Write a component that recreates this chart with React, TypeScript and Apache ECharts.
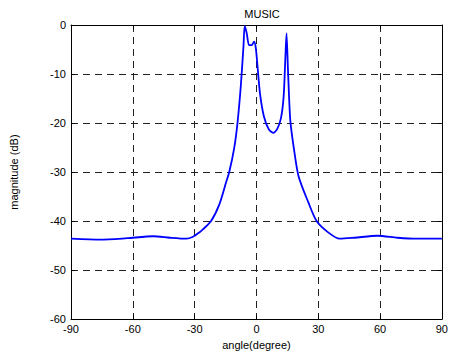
import React, { useEffect, useRef } from "react";
import * as echarts from "echarts";

const angles = [-90, -75.6, -62.8, -50, -42, -34, -30.8, -27.6, -26, -22, -18, -14.8, -13.2, -10.8, -9.2, -7.6, -6.3, -5.7, -4.7, -3.6, -2.3, -1.2, -0.4, 0.4, 1.7, 3.6, 6.0, 8.1, 10.0, 11.9, 13.2, 14.0, 14.6, 15.3, 16.4, 18.0, 20.4, 25.2, 29.2, 34.8, 40.4, 47.6, 58.8, 68.4, 78, 90];
const magnitudes = [-43.6, -43.8, -43.5, -43.1, -43.4, -43.6, -43.2, -42.3, -41.7, -40, -36.6, -32.2, -30, -25.1, -20, -12.5, -4.4, -0.2, -1.7, -4.1, -4.1, -3.4, -4.4, -7.8, -13.9, -18.6, -21.3, -22, -21.3, -19, -14.6, -7.1, -1.7, -9.1, -19.3, -24.7, -30.8, -36.2, -40, -42.3, -43.6, -43.4, -43.0, -43.4, -43.6, -43.6];
const xTicks = [-90, -60, -30, 0, 30, 60, 90];
const yTicks = [-60, -50, -40, -30, -20, -10, 0];

export default function App() {
  const ref = useRef<HTMLDivElement>(null);
  useEffect(() => {
    if (!ref.current) return;
    const chart = echarts.init(ref.current, null, { renderer: "svg" });
    const font = "Liberation Sans, Arial, sans-serif";
    const grid = { color: "#222", type: [7, 5] as number[], width: 1 };
    const boxLine = { show: true, onZero: false, lineStyle: { color: "#000", width: 1 } };
    const tick = { show: true, inside: true, length: 4, lineStyle: { color: "#000" } };
    chart.setOption({
      animation: false,
      backgroundColor: "#fff",
      title: {
        text: "MUSIC",
        left: 257,
        top: 3,
        textAlign: "center",
        textStyle: { fontFamily: font, fontSize: 11, fontWeight: "normal", color: "#000" },
      },
      grid: { left: 70, right: 6, top: 25, bottom: 35, containLabel: false },
      xAxis: [
        {
          type: "value",
          min: -90,
          max: 90,
          interval: 30,
          name: "angle(degree)",
          nameLocation: "middle",
          nameGap: 19,
          nameTextStyle: { fontFamily: font, fontSize: 11, color: "#000" },
          axisLine: boxLine,
          axisTick: tick,
          axisLabel: { fontFamily: font, fontSize: 11, color: "#000", margin: 4, formatter: (v: number) => (xTicks.includes(v) ? String(v) : "") },
          splitLine: { show: true, lineStyle: grid },
        },
        {
          type: "value",
          position: "top",
          min: -90,
          max: 90,
          interval: 30,
          axisLine: boxLine,
          axisTick: tick,
          axisLabel: { show: false },
          splitLine: { show: false },
        },
      ],
      yAxis: [
        {
          type: "value",
          min: -60,
          max: 0,
          interval: 10,
          name: "magnitude (dB)",
          nameLocation: "middle",
          nameGap: 52,
          nameTextStyle: { fontFamily: font, fontSize: 11, color: "#000" },
          axisLine: boxLine,
          axisTick: tick,
          axisLabel: { fontFamily: font, fontSize: 11, color: "#000", margin: 5, formatter: (v: number) => (yTicks.includes(v) ? String(v) : "") },
          splitLine: { show: true, lineStyle: grid },
        },
        {
          type: "value",
          position: "right",
          min: -60,
          max: 0,
          interval: 10,
          axisLine: boxLine,
          axisTick: tick,
          axisLabel: { show: false },
          splitLine: { show: false },
        },
      ],
      series: [
        {
          type: "line",
          data: angles.map((a, i) => [a, magnitudes[i]]),
          showSymbol: false,
          smooth: 0.25,
          lineStyle: { color: "#0000ff", width: 1.8 },
          itemStyle: { color: "#0000ff" },
        },
      ],
    });
    return () => chart.dispose();
  }, []);
  return <div ref={ref} style={{ position: "absolute", left: 0, top: 0, width: 451, height: 355 }} />;
}
